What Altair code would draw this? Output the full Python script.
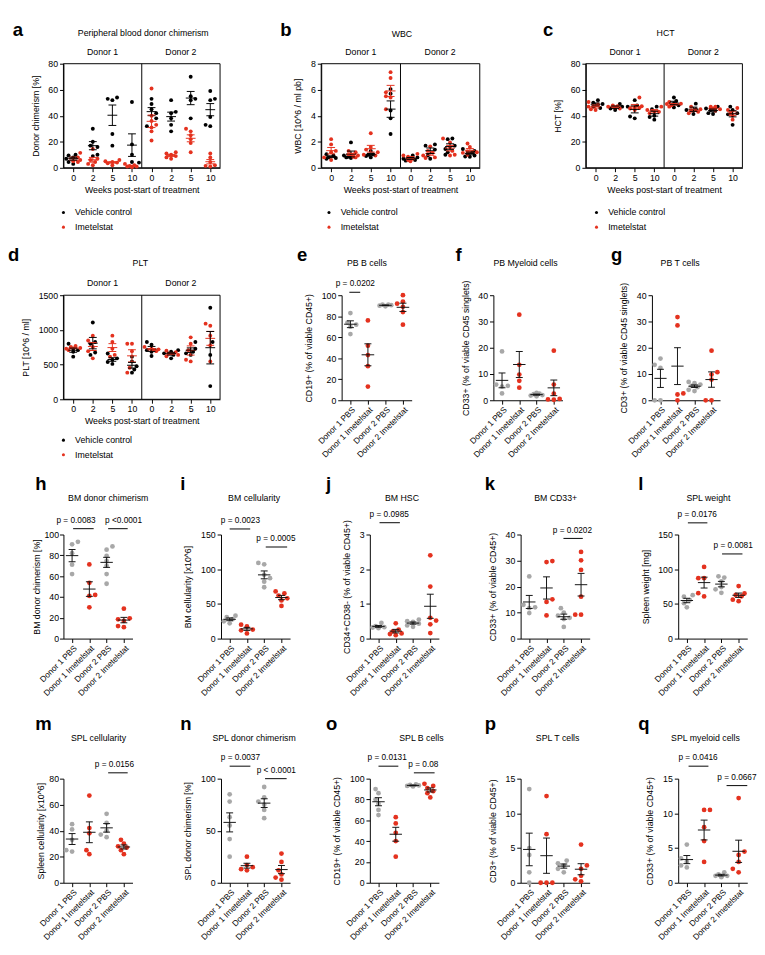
import altair as alt
import numpy as np
import pandas as pd

FONT = "Liberation Sans"
RED = "#E4321F"
GREY = "#A8A8A8"
BAR = "#111111"

week_labels = ["0", "2", "5", "10"]
donor_labels = ["Donor 1", "Donor 2"]
group_labels = ["Donor 1 PBS", "Donor 1 Imetelstat", "Donor 2 PBS", "Donor 2 Imetelstat"]
legend_labels = ["Vehicle control", "Imetelstat"]

# ---------------- time-course panels (D1 wk0,2,5,10, D2 wk0,2,5,10) ----------------
a_vehicle = [[10, 9.5, 8, 7, 4.5, 3], [30, 20, 17, 16, 10, 9], [54, 53, 52, 26, 17], [50.6, 18, 10, 4.5, 4],
             [53, 49, 45, 42, 38, 32], [52, 43, 42, 38, 33, 28], [70, 55, 53, 52, 38], [59, 53, 52, 39, 33, 32]]
a_imetelstat = [[11.5, 8, 6, 5, 4.5], [14.5, 7, 6, 4.5, 3, 2], [6, 5, 4.5, 4, 3.5, 2], [3, 2, 1.5, 1, 1, 0.5],
                [61, 40, 36, 33, 31, 28, 21], [12, 11, 10, 9, 8, 7], [30, 28, 25, 22, 19, 12], [11, 8, 4.5, 2, 1.5, 1]]

b_vehicle = [[1.05, 0.95, 0.8, 0.75, 0.7], [1.95, 0.95, 0.85, 0.8, 0.75], [1.3, 1.05, 1.0, 0.9, 0.8],
             [6.05, 5.7, 4.4, 3.8, 2.6], [0.95, 0.8, 0.7, 0.6, 0.55], [1.8, 1.7, 1.4, 0.95, 0.7],
             [2.25, 2.2, 1.7, 1.45, 1.2, 1.0], [1.45, 1.3, 1.2, 0.95, 0.87, 0.85]]
b_imetelstat = [[2.2, 1.8, 1.3, 1.2, 0.8, 0.6], [1.3, 1.2, 1.05, 0.95, 0.85, 0.8], [2.65, 1.6, 1.4, 1.2, 1.0, 0.95],
                [7.35, 6.9, 5.8, 5.4, 5.5, 4.5], [1.07, 0.95, 0.85, 0.7, 0.6, 0.5], [1.65, 1.3, 1.15, 0.95, 0.8, 0.75],
                [2.25, 1.95, 1.6, 1.3, 1.0, 0.95], [1.87, 1.6, 1.25, 1.2, 1.15, 1.0]]

c_vehicle = [[52, 50, 49, 47, 46], [49, 47, 45.6, 44.4], [52, 48, 47, 39.4, 38], [47, 45, 40, 39, 37],
             [54, 51.3, 49.3, 48, 46.4], [49.3, 45, 44.4, 41.4], [47, 45.6, 44.4, 42, 41.4], [47, 44.4, 42, 41.1, 33]]
c_imetelstat = [[50.6, 48.6, 47, 45, 44.4], [48, 47.3, 47, 46.4, 45.6], [54, 47.3, 46.4, 46, 45.6, 44.4],
                [47, 44.4, 43, 43, 42], [50.6, 49.3, 49, 48, 47], [47, 45, 43.9, 43, 41.9],
                [47, 47, 45.6, 45, 43.9], [46, 44.4, 42, 40, 37]]

d_vehicle = [[800, 730, 708, 685, 615], [1107, 825, 800, 675, 640], [660, 590, 570, 537, 510], [615, 546, 477, 430, 384],
             [825, 787, 708, 685, 625], [708, 685, 662, 640, 590], [825, 730, 685, 662, 640], [1320, 825, 640, 190]]
d_imetelstat = [[770, 755, 740, 730, 708], [917, 847, 755, 694, 590], [917, 825, 730, 640, 615], [800, 800, 694, 454, 384],
                [755, 730, 720, 708, 694], [700, 680, 660, 640, 620], [893, 800, 708, 570, 546], [1090, 1060, 917, 778, 546]]

# ---------------- group panels (D1 PBS, D1 Imetelstat, D2 PBS, D2 Imetelstat) ----------------
e_vals = [[83, 74, 72, 70, 63], [76, 52, 43, 32.5, 13], [91, 90.5, 90, 89.5, 91], [100, 94, 92, 89, 84, 72]]
f_vals = [[18.6, 6, 5.5, 5.2, 2.6], [32.6, 13.5, 9.8, 7.4, 4.8], [2.8, 2.5, 2.3, 2, 1.8, 1.5], [18.9, 6, 2.5, 0.5, 0.3, 0.2]]
g_vals = [[15.9, 13.5, 12.3, 0, 0], [31.7, 28.5, 2.6, 2.2, 0], [7, 6.5, 6, 5.5, 5, 4, 3.5], [18.9, 10.7, 9.8, 7.9, 0, 0]]
h_vals = [[93, 90.6, 82, 71, 62], [71.3, 53.6, 42, 41, 30], [88.5, 85.4, 79.4, 74.7, 70, 62, 52.7], [28.7, 19.5, 18.5, 17, 12, 11]]
i_vals = [[33, 31, 28, 25, 22], [20, 17.5, 13, 12, 7.5], [109, 107, 92, 87, 82, 74], [68, 65, 62, 58, 55, 47]]
j_vals = [[0.45, 0.36, 0.33, 0.32, 0.3], [0.44, 0.26, 0.21, 0.15, 0.1, 0.13], [0.55, 0.5, 0.48, 0.43, 0.38, 0.34],
          [2.4, 1.5, 0.6, 0.52, 0.41, 0.16]]
k_vals = [[23.9, 13, 12, 11.7, 9.8], [29.8, 29.4, 15.1, 14.1, 8.9], [11.7, 10, 8.8, 8, 7.5, 4.5], [33.3, 30.1, 26.4, 16.1, 9.2, 9.2]]
l_vals = [[62.6, 60.3, 55.6, 51, 45], [103.3, 87, 87, 65.4, 60.8], [89.7, 88, 82.3, 74.3, 71, 65.9], [75.7, 65, 63, 61, 56, 54]]
m_vals = [[45, 41, 33, 25, 24], [67, 42, 38, 25, 22], [53, 46, 40, 37, 35], [33, 30, 28, 27, 25, 22]]
n_vals = [[85, 78, 63, 55, 42, 25], [25, 17, 15, 13, 12], [92, 82, 78, 75, 70, 62], [28, 20, 12, 8, 5, 3]]
o_vals = [[90, 86, 80, 76, 70, 65], [63, 57, 48, 40, 25], [94.5, 94, 93.5, 93, 92.5], [95, 93, 91, 88, 86, 82]]
p_vals = [[13.5, 5, 4, 1.5, 0], [12.5, 7, 0, 0, 0], [3.2, 2.8, 2.5, 2, 1.5], [5.5, 2.5, 2, 1, 0.5, 0.2]]
q_vals = [[5.5, 3.5, 3, 2.5, 2.2], [10.5, 10.5, 8, 6, 3], [1.5, 1.2, 1, 1, 0.8], [12.2, 4.5, 4, 3, 2, 1.5]]

# p-value annotations: (line start, line end, text centre) in group units, height in data units, label
e_p = [(-0.06, 0.56, 0.28, 102.8, "p = 0.0202")]
h_p = [(0.06, 1.25, 0.23, 105.6, "p = 0.0083"), (2.09, 3.22, 2.98, 105.6, "p <0.0001")]
i_p = [(0.0, 1.19, 0.62, 158, "p = 0.0023"), (2.09, 3.33, 2.68, 132, "p = 0.0005")]
j_p = [(0.06, 1.24, 0.62, 3.34, "p = 0.0985")]
k_p = [(1.98, 3.1, 2.5, 38.5, "p = 0.0202")]
l_p = [(0.06, 1.19, 0.6, 166.8, "p = 0.0176"), (2.04, 3.22, 2.68, 122, "p = 0.0081")]
m_p = [(2.09, 3.22, 2.45, 84.5, "p = 0.0156")]
n_p = [(0.0, 1.2, 0.62, 112, "p = 0.0037"), (2.05, 3.3, 2.7, 100, "p < 0.0001")]
o_p = [(0.0, 1.15, 0.5, 112, "p = 0.0131"), (2.05, 3.25, 2.6, 105.6, "p = 0.08")]
q_p = [(0.1, 1.25, 0.65, 16.8, "p = 0.0416"), (2.3, 3.5, 2.9, 14, "p = 0.0667")]

# ---------------- layout (page pixels) ----------------
GEOM = {
    "a": (65, 52, 161, 107), "b": (330, 52, 163, 107), "c": (602, 52, 161, 107),
    "d": (65, 290, 161, 107), "e": (351, 290, 72, 108), "f": (507, 290, 71, 108), "g": (670, 290, 70, 108),
    "h": (37, 536, 71, 107), "i": (199, 536, 71, 107), "j": (352, 536, 71, 107), "k": (507, 536, 71, 107),
    "l": (669, 536, 71, 107),
    "m": (37, 787, 71, 107), "n": (199, 787, 71, 107), "o": (352, 787, 71, 107), "p": (507, 787, 71, 107),
    "q": (669, 787, 71, 107),
}
TITLES = {
    "a": ("Peripheral blood donor chimerism", 147, 21), "b": ("WBC", 413, 22), "c": ("HCT", 684, 21),
    "d": ("PLT", 144, 257), "e": ("PB B cells", 377, 257), "f": ("PB Myeloid cells", 540, 257),
    "g": ("PB T cells", 699, 257), "h": ("BM donor chimerism", 83, 499), "i": ("BM cellularity", 233, 499),
    "j": ("BM HSC", 385, 499), "k": ("BM CD33+", 543, 499), "l": ("SPL weight", 700, 499),
    "m": ("SPL cellularity", 73, 745), "n": ("SPL donor chimerism", 233, 745), "o": ("SPL B cells", 405, 745),
    "p": ("SPL T cells", 545, 745), "q": ("SPL myeloid cells", 697, 745),
}
LETTERS = {
    "a": (13, 14), "b": (288, 14), "c": (558, 14), "d": (5, 255), "e": (305, 255), "f": (468, 255),
    "g": (628, 255), "h": (5, 490), "i": (157, 490), "j": (307, 490), "k": (470, 490), "l": (628, 490),
    "m": (5, 737), "n": (157, 737), "o": (307, 737), "p": (470, 737), "q": (628, 737),
}
LEGENDS = {"a": (65, 205), "b": (338, 205), "c": (613, 205), "d": (65, 439)}
ROWS = [(8, 232, ["a", "b", "c"]), (232, 468, ["d", "e", "f", "g"]),
        (468, 716, ["h", "i", "j", "k", "l"]), (716, 946, ["m", "n", "o", "p", "q"])]

ONE = pd.DataFrame({"k": [0]})


def swarm_offsets(vals, ypx, step, diam, kmax):
    n = len(vals)
    order = sorted(range(n), key=lambda i: vals[i])
    placed, offs = [], [0.0] * n
    for j, i in enumerate(order):
        y = vals[i] * ypx
        sgn = 1 if j % 2 == 0 else -1
        cands = [0.0]
        for kk in range(1, kmax + 1):
            cands += [sgn * kk * step, -sgn * kk * step]
        best, bestd = None, -1.0
        for cnd in cands:
            dmin = min([((cnd - px) ** 2 + (y - py) ** 2) ** 0.5 for px, py in placed] + [99.0])
            if dmin >= diam:
                best = cnd
                break
            if dmin > bestd:
                best, bestd = cnd, dmin
        offs[i] = best
        placed.append((best, y))
    return offs


def txt(text, x, y, size=9, weight="normal", align="center", baseline="middle"):
    return alt.Chart(ONE).mark_text(text=text, fontSize=size, fontWeight=weight, align=align,
                                    baseline=baseline, font=FONT, color="black").encode(
        x=alt.value(x), y=alt.value(y))


def dot(x, y, color, size):
    return alt.Chart(ONE).mark_circle(size=size, color=color, opacity=1).encode(x=alt.value(x), y=alt.value(y))


def common_layers(key, first_in_row, row_top, row_bottom):
    L, T, W, H = GEOM[key]
    layers = []
    if first_in_row:
        layers.append(alt.Chart(ONE).mark_rect(opacity=0).encode(
            x=alt.value(8 - L), x2=alt.value(0), y=alt.value(row_top - T), y2=alt.value(row_bottom - T)))
    t, tx, ty = TITLES[key]
    layers.append(txt(t, tx - L, ty - T))
    lx, ly = LETTERS[key]
    base = max(ly, row_top + 15)
    layers.append(txt(key, max(lx, 8) - L, base - T, size=19, weight="bold", align="left",
                      baseline="alphabetic"))
    return layers


def time_panel(key, veh, ime, ymax, yticks, ytitle, first_in_row, row_top, row_bottom):
    L, T, W, H = GEOM[key]
    rows = []
    for g, col, arr in zip(legend_labels, ["black", RED], (veh, ime)):
        for ci, vals in enumerate(arr):
            for v in vals:
                rows.append({"g": g, "col": col, "c": ci, "v": float(v)})
    df = pd.DataFrame(rows)
    xu, yu = W / 8.0, H / ymax
    df["x"] = df["c"].astype(float)
    for ci, sub in df.groupby("c"):
        offs = swarm_offsets(sub["v"].tolist(), yu, 2.4, 4.0, 3)
        df.loc[sub.index, "x"] = ci + np.array(offs) / xu
    st = df.groupby(["g", "col", "c"])["v"].agg(["mean", "std", "count"]).reset_index()
    st["sem"] = st["std"] / np.sqrt(st["count"])
    st["lo"] = st["mean"] - st["sem"]
    st["hi"] = st["mean"] + st["sem"]
    st["x"] = st["c"].astype(float)
    st["xl"], st["xr"] = st["x"] - 0.25, st["x"] + 0.25
    st["cl"], st["cr"] = st["x"] - 0.2, st["x"] + 0.2

    lbl = "[" + ",".join("'%s'" % w for w in week_labels * 2) + "][datum.value]"
    xs = alt.Scale(domain=[-0.5, 7.5], nice=False, zero=False)
    ys = alt.Scale(domain=[0, ymax], nice=False)
    xaxis = alt.Axis(values=list(range(8)), labelExpr=lbl, title="Weeks post-start of treatment",
                     titlePadding=3, labelOverlap=False, labelFlush=False)
    yaxis = alt.Axis(values=yticks, title=ytitle, titlePadding=8, labelOverlap=False, labelFlush=False,
                     format="d")

    def X(f):
        return alt.X(f, type="quantitative", scale=xs, axis=xaxis)

    def Y(f):
        return alt.Y(f, type="quantitative", scale=ys, axis=yaxis)

    C = alt.Color("col:N", scale=None)

    layers = common_layers(key, first_in_row, row_top, row_bottom)
    layers.append(alt.Chart(ONE).mark_rect(fillOpacity=0, stroke="black", strokeWidth=1).encode(
        x=alt.value(0), x2=alt.value(W), y=alt.value(0), y2=alt.value(H)))
    layers.append(alt.Chart(ONE).mark_rule(color="black", strokeWidth=1).encode(
        x=alt.value(W / 2), y=alt.value(0), y2=alt.value(H)))
    layers.append(alt.Chart(df).mark_circle(size=16, opacity=1).encode(x=X("x"), y=Y("v"), color=C))
    layers.append(alt.Chart(st).mark_rule(strokeWidth=1).encode(x=X("xl"), x2=alt.X2("xr"), y=Y("mean"), color=C))
    layers.append(alt.Chart(st).mark_rule(strokeWidth=1).encode(x=X("x"), y=Y("lo"), y2=alt.Y2("hi"), color=C))
    layers.append(alt.Chart(st).mark_rule(strokeWidth=1).encode(x=X("cl"), x2=alt.X2("cr"), y=Y("lo"), color=C))
    layers.append(alt.Chart(st).mark_rule(strokeWidth=1).encode(x=X("cl"), x2=alt.X2("cr"), y=Y("hi"), color=C))
    layers.append(txt(donor_labels[0], W / 4, -12))
    layers.append(txt(donor_labels[1], 3 * W / 4, -12))
    gx, gy = LEGENDS[key]
    for i, (lab, col) in enumerate(zip(legend_labels, ["black", RED])):
        yy = gy + 15 * i - T
        layers.append(dot(gx - L, yy, col, 10))
        layers.append(txt(lab, gx + 12 - L, yy, align="left"))
    return alt.layer(*layers).properties(width=W, height=H)


def group_panel(key, vals, ymax, yticks, ytitle, pvals, first_in_row, row_top, row_bottom, tpad=8):
    L, T, W, H = GEOM[key]
    cols = [GREY, RED, GREY, RED]
    rows = []
    for ci, vv in enumerate(vals):
        for v in vv:
            rows.append({"g": group_labels[ci], "col": cols[ci], "c": ci, "v": float(v)})
    df = pd.DataFrame(rows)
    xu, yu = W / 4.0, H / ymax
    df["x"] = df["c"].astype(float)
    for ci, sub in df.groupby("c"):
        offs = swarm_offsets(sub["v"].tolist(), yu, 3.0, 5.0, 2)
        df.loc[sub.index, "x"] = ci + np.array(offs) / xu
    st = df.groupby("c")["v"].agg(["mean", "std", "count"]).reset_index()
    st["sem"] = st["std"] / np.sqrt(st["count"])
    st["lo"] = st["mean"] - st["sem"]
    st["hi"] = st["mean"] + st["sem"]
    st["x"] = st["c"].astype(float)
    st["xl"], st["xr"] = st["x"] - 0.36, st["x"] + 0.36
    st["cl"], st["cr"] = st["x"] - 0.2, st["x"] + 0.2

    lbl = "[" + ",".join("'%s'" % g for g in group_labels) + "][datum.value]"
    xs = alt.Scale(domain=[-0.5, 3.5], nice=False, zero=False)
    ys = alt.Scale(domain=[0, ymax], nice=False)
    xaxis = alt.Axis(values=[0, 1, 2, 3], labelExpr=lbl, title=None, labelAngle=315, labelAlign="right",
                     labelBaseline="top", labelOverlap=False, labelFlush=False, labelPadding=1,
                     labelFontSize=8.5)
    yaxis = alt.Axis(values=yticks, title=ytitle, titlePadding=tpad, labelOverlap=False, labelFlush=False,
                     labelPadding=2 if tpad > 4 else 1, format="d")

    def X(f):
        return alt.X(f, type="quantitative", scale=xs, axis=xaxis)

    def Y(f):
        return alt.Y(f, type="quantitative", scale=ys, axis=yaxis)

    C = alt.Color("col:N", scale=None)

    layers = common_layers(key, first_in_row, row_top, row_bottom)
    layers.append(alt.Chart(df).mark_circle(size=24, opacity=1).encode(x=X("x"), y=Y("v"), color=C))
    layers.append(alt.Chart(st).mark_rule(strokeWidth=1, color=BAR).encode(x=X("xl"), x2=alt.X2("xr"), y=Y("mean")))
    layers.append(alt.Chart(st).mark_rule(strokeWidth=1, color=BAR).encode(x=X("x"), y=Y("lo"), y2=alt.Y2("hi")))
    layers.append(alt.Chart(st).mark_rule(strokeWidth=1, color=BAR).encode(x=X("cl"), x2=alt.X2("cr"), y=Y("lo")))
    layers.append(alt.Chart(st).mark_rule(strokeWidth=1, color=BAR).encode(x=X("cl"), x2=alt.X2("cr"), y=Y("hi")))
    if pvals:
        pa = pd.DataFrame([{"x1": a, "x2": b, "xm": tc, "y": y, "t": t} for a, b, tc, y, t in pvals])
        layers.append(alt.Chart(pa).mark_rule(color="black", strokeWidth=1).encode(
            x=X("x1"), x2=alt.X2("x2"), y=Y("y")))
        layers.append(alt.Chart(pa).mark_text(fontSize=8.5, font=FONT, color="black", dy=-6,
                                              baseline="alphabetic").encode(
            x=X("xm"), y=Y("y"), text="t:N"))
    return alt.layer(*layers).properties(width=W, height=H)


def spacer(w):
    return alt.Chart(ONE).mark_point(opacity=0).encode(x=alt.value(0), y=alt.value(0)).properties(width=w, height=10)


SPECS = {
    "a": ("t", a_vehicle, a_imetelstat, 80, [0, 20, 40, 60, 80], "Donor chimerism [%]"),
    "b": ("t", b_vehicle, b_imetelstat, 8, [0, 2, 4, 6, 8], "WBC [10^6 / ml pb]"),
    "c": ("t", c_vehicle, c_imetelstat, 80, [0, 20, 40, 60, 80], "HCT [%]"),
    "d": ("t", d_vehicle, d_imetelstat, 1500, [0, 500, 1000, 1500], "PLT [10^6 / ml]"),
    "e": ("g", e_vals, 100, [0, 20, 40, 60, 80, 100], "CD19+ (% of viable CD45+)", e_p),
    "f": ("g", f_vals, 40, [0, 10, 20, 30, 40], "CD33+ (% of viable CD45 singlets)", []),
    "g": ("g", g_vals, 40, [0, 10, 20, 30, 40], "CD3+ (% of viable CD45 singlets)", []),
    "h": ("g", h_vals, 100, [0, 20, 40, 60, 80, 100], "BM donor chimerism [%]", h_p),
    "i": ("g", i_vals, 150, [0, 50, 100, 150], "BM  cellularity [x10^6]", i_p),
    "j": ("g", j_vals, 3, [0, 1, 2, 3], "CD34+CD38- (% of viable CD45+)", j_p),
    "k": ("g", k_vals, 40, [0, 10, 20, 30, 40], "CD33+ (% of viable CD45+)", k_p),
    "l": ("g", l_vals, 150, [0, 50, 100, 150], "Spleen weight [mg]", l_p),
    "m": ("g", m_vals, 80, [0, 20, 40, 60, 80], "Spleen cellularity [x10^6]", m_p),
    "n": ("g", n_vals, 100, [0, 50, 100], "SPL donor chimerism [%]", n_p),
    "o": ("g", o_vals, 100, [0, 20, 40, 60, 80, 100], "CD19+ (% of viable CD45+)", o_p),
    "p": ("g", p_vals, 15, [0, 5, 10, 15], "CD3+ (% of viable CD45+)", []),
    "q": ("g", q_vals, 15, [0, 5, 10, 15], "CD33+ (% of viable CD45+)", q_p),
}

row_charts = []
for top, bottom, keys in ROWS:
    items = []
    for idx, key in enumerate(keys):
        sp = SPECS[key]
        first = idx == 0
        if sp[0] == "t":
            ch = time_panel(key, sp[1], sp[2], sp[3], sp[4], sp[5], first, top, bottom)
        else:
            tp = 3 if key in ("h", "m") else 8
            ch = group_panel(key, sp[1], sp[2], sp[3], sp[4], sp[5], first, top, bottom, tpad=tp)
        if idx > 0:
            pk = keys[idx - 1]
            gap = GEOM[key][0] - (GEOM[pk][0] + GEOM[pk][2])
            items.append(spacer(gap))
        items.append(ch)
    row_charts.append(alt.hconcat(*items, spacing=0, bounds="flush"))

chart = alt.vconcat(*row_charts, spacing=0).properties(padding=0).configure(font=FONT).configure_view(
    strokeWidth=0).configure_axis(
    labelFont=FONT, titleFont=FONT, labelFontSize=9, titleFontSize=9, titleFontWeight="normal",
    labelColor="black", titleColor="black", domainColor="black", tickColor="black", tickSize=4,
    grid=False, domainWidth=1, tickWidth=1)

chart.save("out.html", embed_options={"renderer": "svg", "actions": False})
